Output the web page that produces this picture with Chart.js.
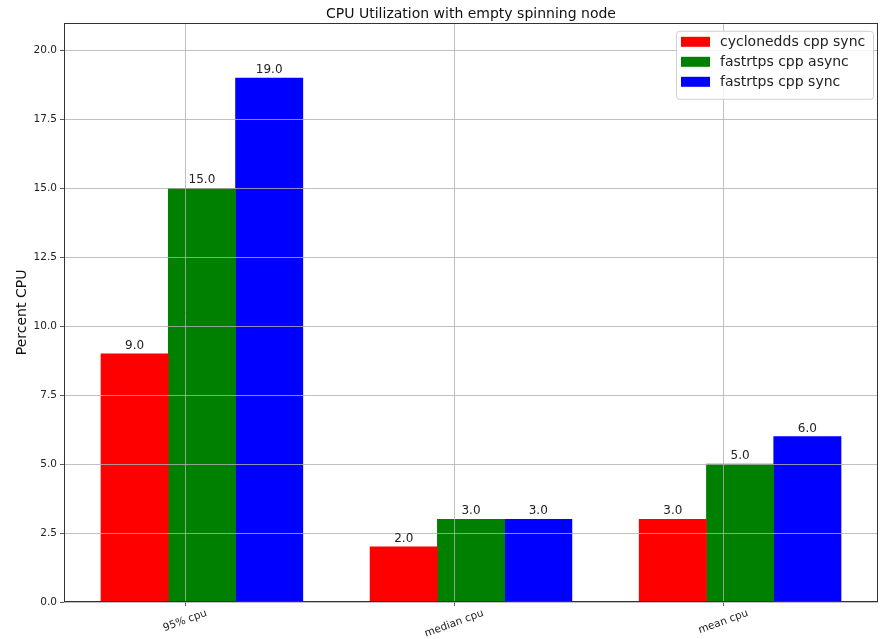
<!DOCTYPE html>
<html>
<head>
<meta charset="utf-8">
<title>CPU Utilization with empty spinning node</title>
<script src="https://cdn.jsdelivr.net/npm/chart.js@4/dist/chart.umd.min.js"></script>
<style>
  html, body { margin: 0; padding: 0; background: #fff; }
  #wrap { width: 881px; height: 639px; }
</style>
</head>
<body>
<div id="wrap"><canvas id="cpuChart" width="881" height="639"></canvas></div>
<script>
// values
const categories = ['95% cpu', 'median cpu', 'mean cpu'];
const seriesNames = ['cyclonedds cpp sync', 'fastrtps cpp async', 'fastrtps cpp sync'];
const cycloneddsSync = [9.0, 2.0, 3.0];
const fastrtpsAsync = [15.0, 3.0, 5.0];
const fastrtpsSync = [19.0, 3.0, 6.0];
const yTicks = [0, 2.5, 5, 7.5, 10, 12.5, 15, 17.5, 20];

// layout of the bars around each category tick (in category units)
const barOffsets = [-0.1875, 0.0625, 0.3125];
const barColors = ['#ff0000', '#008000', '#0000ff'];
const FONT = "'DejaVu Sans', sans-serif";
const X_LABEL_ROT = 20 * Math.PI / 180;

const seriesValues = [cycloneddsSync, fastrtpsAsync, fastrtpsSync];

const datasets = seriesValues.map((vals, s) => ({
  label: seriesNames[s],
  data: vals.map((v, i) => ({ x: i + barOffsets[s], y: v })),
  backgroundColor: barColors[s],
  borderWidth: 0,
  grouped: false,
  categoryPercentage: 1,
  barPercentage: 1
}));

// value labels, centred rotated x labels, legend inside the axes, frame
const extrasPlugin = {
  id: 'extras',
  afterDraw(chart) {
    const ctx = chart.ctx;
    const area = chart.chartArea;
    const xScale = chart.scales.x;
    ctx.save();

    // bar value labels
    ctx.font = '12px ' + FONT;
    ctx.fillStyle = '#222';
    ctx.textAlign = 'center';
    ctx.textBaseline = 'bottom';
    chart.data.datasets.forEach((ds, di) => {
      chart.getDatasetMeta(di).data.forEach((bar, i) => {
        ctx.fillText(ds.data[i].y.toFixed(1), bar.x, bar.y - 2);
      });
    });

    // x tick labels, rotated and centred under their tick (matplotlib style)
    ctx.font = '10.5px ' + FONT;
    ctx.textBaseline = 'middle';
    xScale.ticks.forEach((t, i) => {
      const label = categories[t.value];
      const w = ctx.measureText(label).width;
      const h = 10.5;
      const boxH = w * Math.sin(X_LABEL_ROT) + h * Math.cos(X_LABEL_ROT);
      const px = xScale.getPixelForTick(i);
      ctx.save();
      ctx.translate(px, area.bottom + 6 + boxH / 2);
      ctx.rotate(-X_LABEL_ROT);
      ctx.fillText(label, 0, 0);
      ctx.restore();
    });

    // frame around the plot
    ctx.strokeStyle = '#333';
    ctx.lineWidth = 1;
    ctx.strokeRect(Math.round(area.left) + 0.5, Math.round(area.top) + 0.5,
      Math.round(area.right - area.left) - 1, Math.round(area.bottom - area.top) - 1);

    // legend
    const bx = area.right - 202, by = area.top + 8, bw = 197, bh = 68;
    ctx.beginPath();
    ctx.roundRect(bx + 0.5, by + 0.5, bw, bh, 3);
    ctx.fillStyle = 'rgba(255,255,255,0.85)';
    ctx.fill();
    ctx.strokeStyle = '#d0d0d0';
    ctx.stroke();
    ctx.font = '14px ' + FONT;
    ctx.textAlign = 'left';
    ctx.textBaseline = 'middle';
    chart.data.datasets.forEach((ds, di) => {
      const cy = by + 11 + di * 20;
      ctx.fillStyle = ds.backgroundColor;
      ctx.fillRect(bx + 5, cy - 5, 29, 10);
      ctx.fillStyle = '#222';
      ctx.fillText(ds.label, bx + 44, cy + 1);
    });
    ctx.restore();
  }
};

new Chart(document.getElementById('cpuChart'), {
  type: 'bar',
  data: { datasets },
  options: {
    responsive: false,
    animation: false,
    layout: { padding: { top: 0, right: 3, left: 0, bottom: 0 } },
    plugins: {
      legend: { display: false },
      tooltip: { enabled: false },
      title: {
        display: true,
        fullSize: false,
        text: 'CPU Utilization with empty spinning node',
        color: '#111',
        font: { family: FONT, size: 14, weight: 'normal' },
        padding: { top: 6, bottom: 0 }
      }
    },
    scales: {
      x: {
        type: 'linear',
        min: -0.45,
        max: 2.575,
        offset: false,
        afterBuildTicks: (scale) => { scale.ticks = categories.map((c, i) => ({ value: i })); },
        afterFit: (scale) => { scale.height = 37; },
        grid: { offset: false, z: 1, color: '#b0b0b0', lineWidth: 0.8, tickLength: 4, tickColor: '#333' },
        border: { display: false },
        ticks: { display: false }
      },
      y: {
        min: 0,
        max: 21,
        afterBuildTicks: (scale) => { scale.ticks = yTicks.map(v => ({ value: v })); },
        afterFit: (scale) => { scale.width = 64; },
        grid: { z: 1, color: '#b0b0b0', lineWidth: 0.8, tickLength: 4, tickColor: '#333' },
        border: { display: false },
        ticks: {
          padding: 3,
          color: '#222',
          font: { family: FONT, size: 10.5 },
          callback: (v) => Number(v).toFixed(1)
        },
        title: {
          display: true,
          text: 'Percent CPU',
          color: '#111',
          font: { family: FONT, size: 14 },
          padding: { top: 14, bottom: 0 }
        }
      }
    }
  },
  plugins: [extrasPlugin]
});
</script>
</body>
</html>
